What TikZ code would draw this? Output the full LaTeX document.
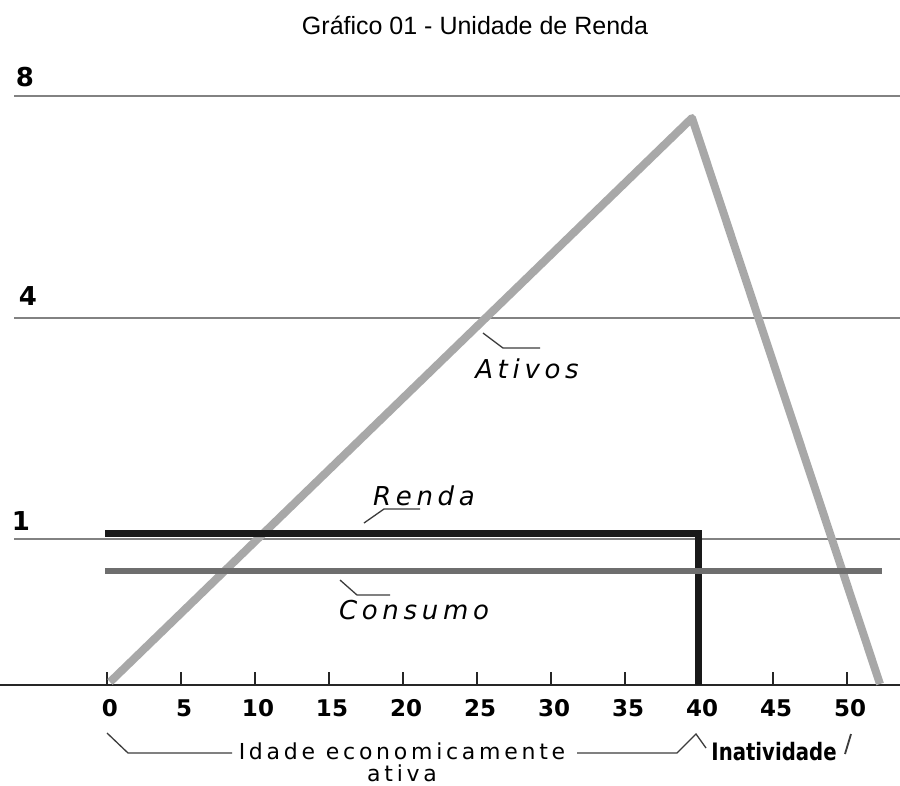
\documentclass[tikz,border=0pt]{standalone}
\usepackage{fontspec}
\setmainfont{Liberation Sans}
\newfontfamily\dvs{DejaVu Sans}
\definecolor{ativgray}{RGB}{168,168,168}
\definecolor{consgray}{RGB}{110,110,110}
\definecolor{gridgray}{RGB}{130,130,130}
\definecolor{rendablack}{RGB}{25,25,25}
\definecolor{leadgray}{RGB}{60,60,60}
\begin{document}
\begin{tikzpicture}[x=1pt,y=-1pt,
  gridline/.style={draw=gridgray,line width=1.6},
  ativosline/.style={draw=ativgray,line width=8,line join=round},
  rendaline/.style={draw=rendablack,line width=7,line join=miter},
  consline/.style={draw=consgray,line width=6},
  axisline/.style={draw=black!85,line width=2.4},
  tickline/.style={draw=black!85,line width=2},
  leader/.style={draw=leadgray,line width=1.3},
  ylab/.style={font=\dvs\bfseries\fontsize{26}{28}\selectfont,inner sep=0},
  xlab/.style={font=\dvs\bfseries\fontsize{23}{25}\selectfont,inner sep=0},
  curvelab/.style={font=\dvs\itshape\fontsize{26}{28}\selectfont\addfontfeature{LetterSpace=18},inner sep=0},
  botlab/.style={font=\dvs\fontsize{22}{22}\selectfont\addfontfeature{LetterSpace=17},inner sep=0,align=center}]
\useasboundingbox (0,0) rectangle (900,785);
\fill[white] (0,0) rectangle (900,785);
% title
\node[font=\fontsize{25}{28}\selectfont,inner sep=0] (title) at (475,25) {Gráfico 01 - Unidade de Renda};
% grid lines
\coordinate (g8a) at (14,96); \coordinate (g8b) at (900,96);
\coordinate (g4a) at (14,318); \coordinate (g4b) at (900,318);
\coordinate (g1a) at (14,539); \coordinate (g1b) at (900,539);
\draw[gridline] (g8a) -- (g8b);
\draw[gridline] (g4a) -- (g4b);
\draw[gridline] (g1a) -- (g1b);
\node[ylab] (l8) at (25,77) {8};
\node[ylab] (l4) at (28,296) {4};
\node[ylab] (l1) at (21,521) {1};
% axis
\coordinate (ax0) at (0,685); \coordinate (ax1) at (900,685);
\draw[axisline] (ax0) -- (ax1);
\foreach \v [count=\i] in {0,5,...,50}{
  \coordinate (t\i) at ({107+14.8*\v},685);
  \draw[tickline] (t\i) -- ++(0,-13);
  \node[xlab] (n\i) at ({110+14.8*\v},708) {\v};
}
% curves
\coordinate (c0) at (110,682); \coordinate (cpk) at (692,118); \coordinate (cend) at (880,684);
\draw[ativosline] (c0) -- (cpk) -- (cend);
\coordinate (r0) at (105,533); \coordinate (r1) at (698,533); \coordinate (r2) at (698,685);
\draw[rendaline] (r0) -- (r1) -- (r2);
\coordinate (k0) at (105,571); \coordinate (k1) at (882,571);
\draw[consline] (k0) -- (k1);
% labels
\node[curvelab] (ativos) at (527,369) {Ativos};
\coordinate (la1) at (483,333); \coordinate (la2) at (503,348); \coordinate (la3) at (540,348);
\draw[leader] (la1) -- (la2) -- (la3);
\node[curvelab] (renda) at (424,496) {Renda};
\coordinate (lr1) at (364,523); \coordinate (lr2) at (384,509); \coordinate (lr3) at (420,509);
\draw[leader] (lr1) -- (lr2) -- (lr3);
\node[curvelab] (consumo) at (414,610) {Consumo};
\coordinate (lc1) at (340,580); \coordinate (lc2) at (357,595); \coordinate (lc3) at (390,595);
\draw[leader] (lc1) -- (lc2) -- (lc3);
% bottom
\node[botlab] (idade) at (402,762) {Idade economicamente\\ativa};
\coordinate (b1) at (107,733); \coordinate (b2) at (128,753); \coordinate (b3) at (232,753);
\draw[leader] (b1) -- (b2) -- (b3);
\coordinate (b4) at (577,753); \coordinate (b5) at (677,753); \coordinate (b6) at (696,734); \coordinate (b7) at (706,748);
\draw[leader] (b4) -- (b5) -- (b6) -- (b7);
\node[font=\dvs\bfseries\fontsize{24}{26}\selectfont,inner sep=0,xscale=0.82] (inat) at (774,752) {Inatividade};
\coordinate (s1) at (845,754); \coordinate (s2) at (851,734);
\draw[leader,line width=1.8] (s1) -- (s2);
\end{tikzpicture}
\end{document}
